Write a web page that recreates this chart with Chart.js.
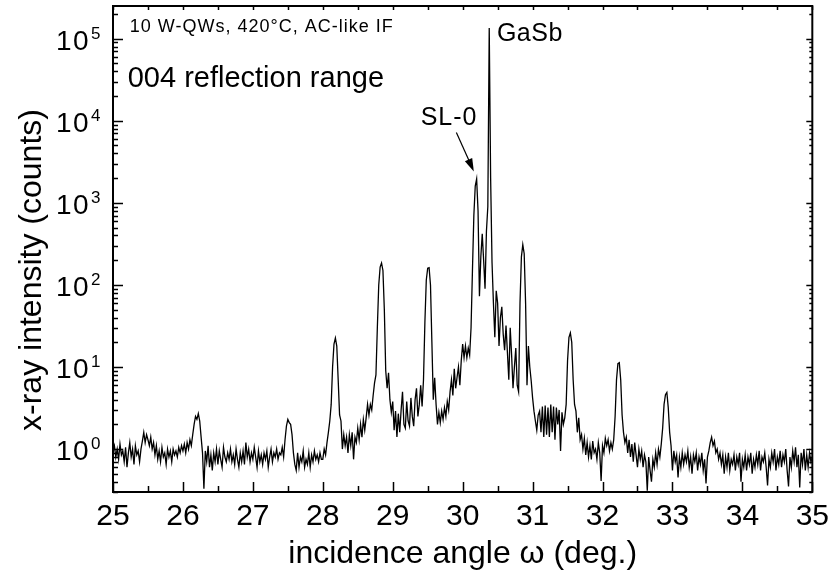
<!DOCTYPE html>
<html>
<head>
<meta charset="utf-8">
<script src="https://cdn.jsdelivr.net/npm/chart.js@4.4.1/dist/chart.umd.min.js"></script>
<style>
  html, body { margin: 0; padding: 0; background: #fff; }
  #wrap { width: 836px; height: 579px; }
</style>
</head>
<body>
<div id="wrap"><canvas id="xrd" width="836" height="579"></canvas></div>
<script>
// omega scan around the GaSb 004 reflection, one reading every 0.02 deg
const scanStart = 25.0;
const scanStep = 0.02;

const counts25 = [0.95,1.1,0.8,1.0,0.75,1.15,0.85,0.95,0.7,1.05, 0.6,0.9,1.2,0.8,1.0,0.65,1.1,0.85,0.95,0.7,
  1.0,1.25,1.6,1.2,1.5,1.3,1.1,1.4,1.0,1.2, 0.85,1.1,0.75,0.95,0.7,1.05,0.8,0.9,0.65,1.0,
  0.8,0.95,0.7,1.0,0.85,0.95,0.8,1.05,0.9,1.1];
const counts26 = [0.95,1.15,0.9,1.2,1.0,1.3,1.1,1.5,2.0,2.5, 2.3,2.7,2.2,1.4,0.9,0.33,0.95,0.7,1.1,0.6,
  0.85,0.55,0.9,0.7,1.0,0.65,0.95,0.75,0.6,1.05, 0.8,0.7,0.9,0.75,1.0,0.7,0.85,0.65,1.0,0.75,
  0.6,0.9,0.7,0.95,0.65,1.2,0.8,1.0,0.7,0.9];
const counts27 = [0.75,1.05,0.8,0.6,0.95,0.7,0.85,0.65,0.9,0.75, 0.95,0.6,0.8,1.0,0.7,0.9,0.8,1.0,0.75,0.9,
  0.85,1.05,0.8,1.3,1.9,2.3,2.1,2.0,1.5,0.9, 0.65,0.55,0.9,0.6,0.8,0.7,0.95,0.6,0.75,0.65,
  0.9,0.6,0.85,0.7,0.95,0.75,0.85,0.7,0.9,0.75];
const counts28 = [0.75,1.0,0.85,1.2,1.6,2.2,3.5,10,19,22.5, 18,7,2.6,2.2,1.0,1.5,1.1,1.4,0.9,1.5,
  1.1,1.6,0.75,1.4,1.2,1.8,1.3,2.0,1.4,2.3, 1.7,2.4,3.5,2.6,3.5,3.0,4.5,6.4,8,30,
  100,165,185,150,50,9,5.5,8.5,4,2.8];
const counts29 = [3.8,1.7,2.9,1.4,2.7,1.6,3.0,5.0,2.0,1.8, 3.8,2.2,1.9,4.2,2.5,1.9,4.0,5.5,2.5,3.5,
  6.0,3.3,7.0,35,115,160,162,100,20,4.0, 7.4,3.5,2.0,2.8,2.1,2.9,2.3,3.2,2.5,3.8,
  3.0,5.0,7.0,4.5,9.5,5.5,7.5,10,6,12];
const counts30 = [19,13,18,13,17,14,30,150,700,1600, 1950,800,73,220,420,200,90,450,900,135000,
  2000,187,60,23,85,60,18,40,54,25, 16,32,15,7,30,14,5.5,10,17,6,
  5,60,220,310,240,60,6,18,10,6.8];
const counts31 = [4.2,2.9,2.2,1.7,2.6,2.9,1.6,3.3,1.4,3.4, 1.5,3.2,1.4,3.5,1.6,3.3,1.3,3.2,2.0,3.0,
  0.95,2.8,2.0,2.4,3.5,12,23,26,20,7, 3.5,2.9,1.6,2.4,1.3,1.5,1.0,1.35,0.85,1.2,
  0.8,1.1,0.75,1.25,0.9,1.0,0.75,1.2,0.9,0.41];
const counts32 = [1.1,0.9,1.35,1.1,1.3,0.95,1.2,1.0,1.3,2.5, 7,11,11.3,7,2.6,1.6,1.2,1.4,0.9,1.3,
  0.8,1.15,0.7,1.2,0.85,0.6,1.0,0.75,0.95,0.6, 0.85,0.7,0.31,0.8,0.55,0.4,0.75,0.6,0.9,0.65,
  1.0,0.8,1.15,1.8,3.5,4.6,4.9,3.2,1.6,1.1];
const counts33 = [0.55,0.95,0.7,0.85,0.45,0.8,0.6,0.9,0.65,0.85, 0.7,0.95,0.6,0.8,0.5,0.85,0.7,0.9,0.55,0.8,
  0.65,0.9,0.55,0.75,0.38,0.8,0.95,1.2,1.4,1.1, 1.25,0.9,1.0,0.75,0.9,0.65,0.85,0.5,0.8,0.6,
  0.9,0.55,0.75,0.65,0.85,0.55,0.8,0.65,0.9,0.4];
const counts34 = [0.75,0.6,0.85,0.55,0.8,0.65,0.9,0.5,0.75,0.6, 0.85,0.65,0.95,0.55,0.8,0.7,0.9,0.6,0.36,0.75,
  0.6,0.9,0.7,1.0,0.55,0.8,0.65,0.95,0.6,0.85, 0.7,1.0,0.55,0.35,0.8,0.6,0.95,0.7,1.05,0.6,
  0.85,0.34,0.9,0.65,1.0,0.55,0.85,0.6,0.9,0.7, 0.8];

const decadeExponents = [0, 1, 2, 3, 4, 5];
const sampleNote = "10 W-QWs, 420°C, AC-like IF";
const rangeNote = "004 reflection range";
const peakNames = ["GaSb", "SL-0"];
const xTitle = "incidence angle ω (deg.)";
const yTitle = "x-ray intensity (counts)";

const counts = [].concat(counts25, counts26, counts27, counts28, counts29,
  counts30, counts31, counts32, counts33, counts34);
const points = counts.map((c, i) => ({
  x: Math.round((scanStart + i * scanStep) * 100) / 100,
  y: c
}));

const FONT = '"Liberation Sans", Arial, Helvetica, sans-serif';

function put(ctx, str, x, y, size, spacing, align) {
  ctx.font = size + 'px ' + FONT;
  ctx.letterSpacing = spacing + 'px';
  ctx.textAlign = align || 'left';
  ctx.textBaseline = 'alphabetic';
  ctx.fillText(str, x, y);
}

const framePlugin = {
  id: 'frame',
  afterDraw(chart) {
    const { ctx, chartArea: a, scales } = chart;
    const x = scales.x, y = scales.y;
    ctx.save();
    ctx.strokeStyle = '#000';
    ctx.fillStyle = '#000';

    // box
    ctx.lineWidth = 2;
    ctx.strokeRect(a.left, a.top, a.right - a.left, a.bottom - a.top);

    // inward ticks
    ctx.lineWidth = 1.5;
    ctx.beginPath();
    for (let v = x.min; v <= x.max + 1e-9; v += 0.5) {
      const px = Math.round(x.getPixelForValue(v)) + 0.5;
      const major = Math.abs(v - Math.round(v)) < 1e-9;
      ctx.moveTo(px, a.bottom);
      ctx.lineTo(px, a.bottom - (major ? 10 : 6));
      ctx.moveTo(px, a.top);
      ctx.lineTo(px, a.top + 4);
    }
    for (let e = -1; e <= 5; e++) {
      for (let m = 1; m <= 9; m++) {
        const v = m * Math.pow(10, e);
        if (v < y.min || v > y.max) continue;
        const py = Math.round(y.getPixelForValue(v)) + 0.5;
        ctx.moveTo(a.left, py);
        ctx.lineTo(a.left + (m === 1 ? 10 : 5), py);
        ctx.moveTo(a.right, py);
        ctx.lineTo(a.right - (m === 1 ? 6 : 3), py);
      }
    }
    ctx.stroke();

    // decade labels 10^n
    decadeExponents.forEach(n => {
      const py = y.getPixelForValue(Math.pow(10, n));
      put(ctx, '10', 56, py + 11, 28, 1.5);
      put(ctx, String(n), 91, py, 17, 0);
    });

    // axis titles
    put(ctx, xTitle, (a.left + a.right) / 2, 563, 32, 0, 'center');
    ctx.save();
    ctx.translate(41, 270);
    ctx.rotate(-Math.PI / 2);
    put(ctx, yTitle, 0, 0, 32, 0, 'center');
    ctx.restore();

    // notes
    put(ctx, sampleNote, x.getPixelForValue(25.24), y.getPixelForValue(119000), 18, 1);
    put(ctx, rangeNote, x.getPixelForValue(25.21), y.getPixelForValue(26000), 29, 0);
    put(ctx, peakNames[0], x.getPixelForValue(30.49), y.getPixelForValue(94000), 25, 0.5);
    put(ctx, peakNames[1], x.getPixelForValue(29.40), y.getPixelForValue(8900), 25, 1);

    // arrow to SL-0
    const x0 = x.getPixelForValue(29.91), y0 = y.getPixelForValue(7200);
    const x1 = x.getPixelForValue(30.16), y1 = y.getPixelForValue(2410);
    const ang = Math.atan2(y1 - y0, x1 - x0);
    ctx.lineWidth = 1.2;
    ctx.beginPath();
    ctx.moveTo(x0, y0);
    ctx.lineTo(x1 - 10 * Math.cos(ang), y1 - 10 * Math.sin(ang));
    ctx.stroke();
    ctx.beginPath();
    ctx.moveTo(x1, y1);
    ctx.lineTo(x1 - 13 * Math.cos(ang) + 4 * Math.sin(ang), y1 - 13 * Math.sin(ang) - 4 * Math.cos(ang));
    ctx.lineTo(x1 - 13 * Math.cos(ang) - 4 * Math.sin(ang), y1 - 13 * Math.sin(ang) + 4 * Math.cos(ang));
    ctx.closePath();
    ctx.fill();

    ctx.restore();
  }
};

new Chart(document.getElementById('xrd'), {
  type: 'line',
  data: {
    datasets: [{
      data: points,
      borderColor: '#000',
      borderWidth: 1.3,
      pointRadius: 0,
      tension: 0,
      fill: false
    }]
  },
  options: {
    responsive: false,
    animation: false,
    layout: { padding: { top: 6, right: 18, left: 0, bottom: 0 } },
    plugins: { legend: { display: false }, tooltip: { enabled: false } },
    scales: {
      x: {
        type: 'linear',
        min: 25,
        max: 35,
        grid: { display: false, drawTicks: false },
        border: { display: false },
        ticks: {
          stepSize: 1,
          maxRotation: 0,
          autoSkip: false,
          padding: 7,
          color: '#000',
          font: { family: FONT, size: 30 }
        },
        afterFit(scale) { scale.height = 87; }
      },
      y: {
        type: 'logarithmic',
        min: 0.3,
        max: 250000,
        grid: { display: false, drawTicks: false },
        border: { display: false },
        ticks: { display: false },
        afterFit(scale) { scale.width = 113; }
      }
    }
  },
  plugins: [framePlugin]
});
</script>
</body>
</html>
